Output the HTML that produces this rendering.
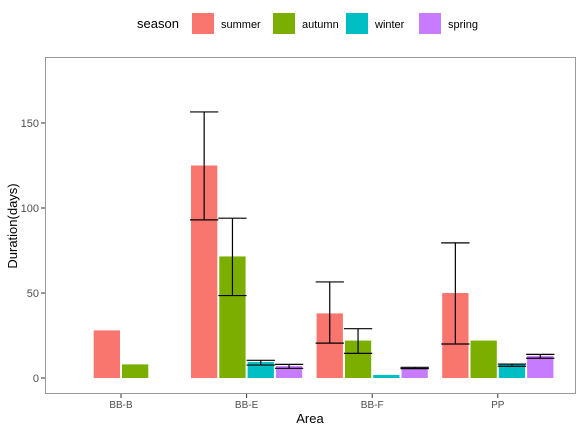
<!DOCTYPE html>
<html><head><meta charset="utf-8"><style>
body{margin:0;background:#fff;font-family:"Liberation Sans",sans-serif}
</style></head><body>
<svg id="chart" width="581" height="433" xmlns="http://www.w3.org/2000/svg" font-family="Liberation Sans, sans-serif">
<rect width="581" height="433" fill="#fff"/>
<g id="legend"></g>
<rect x="45.5" y="57.5" width="530" height="336" fill="#fff" stroke="#999" stroke-width="1"/>
<g id="marks"></g>
<text x="310" y="423" font-size="13" text-anchor="middle" fill="#000">Area</text>
<text transform="translate(17,226) rotate(-90)" font-size="13" text-anchor="middle" fill="#000">Duration(days)</text>
</svg>
<script>
const categories=["BB-B","BB-E","BB-F","PP"];
const seasons=["summer","autumn","winter","spring"];
const colors=["#F8766D","#7CAE00","#00BFC4","#C77CFF"];
// values per category, per season (null = missing)
const summerVals=[28,125,38,50];
const autumnVals=[8,71.5,22,22];
const winterVals=[null,9.4,1.8,8];
const springVals=[null,7,5.5,13];
const summerErrLo=[null,93,20.5,20];
const summerErrHi=[null,156.5,56.5,79.5];
const autumnErrLo=[null,48.5,14.5,null];
const autumnErrHi=[null,94,29,null];
const winterErrLo=[null,7.6,null,6.9];
const winterErrHi=[null,10.4,null,8.2];
const springErrLo=[null,5.7,5.5,11.6];
const springErrHi=[null,8,6.3,13.9];
const yTicks=[0,50,100,150];

const ns="http://www.w3.org/2000/svg";
const vals=[summerVals,autumnVals,winterVals,springVals];
const lo=[summerErrLo,autumnErrLo,winterErrLo,springErrLo];
const hi=[summerErrHi,autumnErrHi,winterErrHi,springErrHi];
const y=v=>378-v*1.7;
const xc=i=>121+i*125.6;
const slot=28.3,bw=26.3;
function mk(t,a,p){const e=document.createElementNS(ns,t);for(const k in a)e.setAttribute(k,a[k]);(p||g).appendChild(e);return e;}
const g=document.getElementById('marks');
yTicks.forEach(t=>{
 const l=mk('line',{x1:41,x2:45,y1:y(t),y2:y(t),stroke:'#333'});
 
 
 const tx=mk('text',{x:39,y:y(t)+4,'font-size':11,'text-anchor':'end',fill:'#4d4d4d'});
 tx.textContent=t;
 
 
});
categories.forEach((c,i)=>{
 const present=[0,1,2,3].filter(s=>vals[s][i]!==null);
 const n=present.length;
 present.forEach((s,k)=>{
  const cx=xc(i)+(k-(n-1)/2)*slot;
  const v=vals[s][i];
  const r=mk('rect',{x:cx-bw/2,y:y(v),width:bw,height:y(0)-y(v),fill:colors[s]});
  
  
  if(lo[s][i]!==null){
   const eg=mk('g',{stroke:'#000','stroke-width':1.2});
   
   
   mk('line',{x1:cx,x2:cx,y1:y(lo[s][i]),y2:y(hi[s][i])},eg);
   mk('line',{x1:cx-bw/2-1,x2:cx+bw/2+1,y1:y(lo[s][i]),y2:y(lo[s][i])},eg);
   mk('line',{x1:cx-bw/2-1,x2:cx+bw/2+1,y1:y(hi[s][i]),y2:y(hi[s][i])},eg);
  }
 });
 const tk=mk('line',{x1:xc(i),x2:xc(i),y1:394,y2:398,stroke:'#333'});
 
 
 const t=mk('text',{x:xc(i),y:408,'font-size':10,'text-anchor':'middle',fill:'#4d4d4d'});
 t.textContent=c;
 
 
});
const lg=document.getElementById('legend');
const lt=mk('text',{x:137,y:28,'font-size':13,fill:'#000'},lg);
lt.textContent='season';


const lx=[192,273,346,419];
seasons.forEach((s,k)=>{
 const e=mk('g',{},lg);
 
 
 mk('rect',{x:lx[k],y:13,width:22,height:21,fill:colors[k]},e);
 const t=mk('text',{x:lx[k]+29,y:28,'font-size':11,fill:'#000'},e);
 t.textContent=s;
});
</script>
</body></html>
